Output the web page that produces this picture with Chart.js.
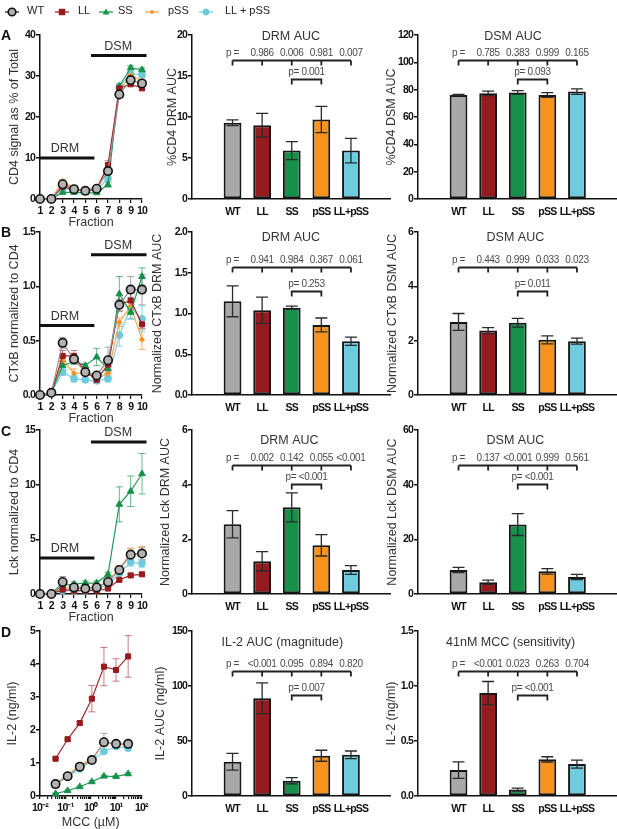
<!DOCTYPE html>
<html>
<head>
<meta charset="utf-8">
<title>CD4, CTxB, Lck and IL-2</title>
<script src="https://cdn.jsdelivr.net/npm/chart.js@4.4.1/dist/chart.umd.min.js"></script>
<style>
  body { margin: 0; background: #fff; }
  #fig { position: relative; width: 617px; height: 829px; overflow: hidden; font-family: "Liberation Sans", Arial, sans-serif; }
  #fig canvas { position: absolute; }
  .letter { position: absolute; left: 1px; font-weight: bold; font-size: 14px; line-height: 14px; color: #111; z-index: 3; }
  .leg { position: absolute; font-size: 11px; line-height: 12px; color: #222; z-index: 3; white-space: nowrap; }
  .legm { position: absolute; z-index: 3; }
</style>
</head>
<body>
<div id="fig">
  <div class="letter" style="top:28px">A</div>
  <div class="letter" style="top:225px">B</div>
  <div class="letter" style="top:424px">C</div>
  <div class="letter" style="top:625px">D</div>
</div>
<script>
'use strict';

// ---- data ----
let groups = ['WT', 'LL', 'SS', 'pSS', 'LL+pSS'];
let legendNames = ['WT', 'LL', 'SS', 'pSS', 'LL + pSS'];
let fractions = [1, 2, 3, 4, 5, 6, 7, 8, 9, 10];
let mccConc = [0.041, 0.123, 0.37, 1.11, 3.33, 10, 30];

// A: CD4 signal as % of total
let cd4WT     = [0, 0, 3.6, 2.4, 2.0, 2.5, 6.8, 25.5, 29.0, 28.2];
let cd4LL     = [0, 0, 3.0, 2.3, 2.0, 2.3, 8.3, 27.0, 28.0, 27.0];
let cd4SS     = [0, 0, 1.6, 1.6, 1.5, 1.5, 3.5, 27.5, 32.0, 31.5];
let cd4pSS    = [0, 0, 4.3, 2.6, 2.2, 2.8, 7.8, 26.5, 30.2, 28.8];
let cd4LLpSS  = [0, 0, 2.5, 2.2, 2.0, 2.2, 5.0, 27.5, 30.5, 30.3];
let cd4WTErr    = [0, 0, 0.3, 0.2, 0.2, 0.2, 0.6, 0.5, 0.6, 0.5];
let cd4LLErr    = [0, 0, 0.3, 0.2, 0.2, 0.2, 1.0, 0.8, 0.6, 0.5];
let cd4SSErr    = [0, 0, 0.2, 0.2, 0.2, 0.2, 0.6, 0.6, 0.5, 0.5];
let cd4pSSErr   = [0, 0, 0.5, 0.3, 0.2, 0.3, 0.8, 0.6, 0.6, 0.9];
let cd4LLpSSErr = [0, 0, 0.3, 0.2, 0.2, 0.2, 0.6, 0.6, 0.6, 0.6];

// B: CTxB normalized to CD4
let cxWT     = [0, 0.02, 0.48, 0.33, 0.21, 0.18, 0.32, 0.83, 0.97, 0.97];
let cxLL     = [0, 0.02, 0.36, 0.36, 0.22, 0.14, 0.28, 0.83, 0.87, 0.65];
let cxSS     = [0, 0.02, 0.27, 0.31, 0.27, 0.35, 0.24, 0.93, 0.76, 1.09];
let cxpSS    = [0, 0.02, 0.32, 0.20, 0.20, 0.15, 0.20, 0.67, 0.82, 0.51];
let cxLLpSS  = [0, 0.02, 0.21, 0.15, 0.14, 0.13, 0.15, 0.55, 0.80, 0.70];
let cxWTErr    = [0, 0, 0.05, 0.03, 0.02, 0.02, 0.12, 0.02, 0.12, 0.14];
let cxLLErr    = [0, 0, 0.05, 0.05, 0.02, 0.03, 0.05, 0.05, 0.08, 0.04];
let cxSSErr    = [0, 0, 0.04, 0.03, 0.02, 0.08, 0.04, 0.16, 0.06, 0.08];
let cxpSSErr   = [0, 0, 0.03, 0.04, 0.02, 0.02, 0.03, 0.04, 0.06, 0.09];
let cxLLpSSErr = [0, 0, 0.03, 0.03, 0.02, 0.02, 0.03, 0.10, 0.10, 0.12];

// C: Lck normalized to CD4
let lckWT     = [0, 0, 1.1, 0.6, 0.5, 0.6, 1.1, 2.2, 3.6, 3.7];
let lckLL     = [0, 0, 0.4, 0.3, 0.3, 0.3, 0.5, 1.3, 1.7, 1.8];
let lckSS     = [0, 0, 0.8, 0.9, 1.0, 1.0, 1.8, 8.2, 9.4, 11.0];
let lckpSS    = [0, 0, 0.6, 0.5, 0.5, 0.6, 1.2, 2.3, 3.7, 3.7];
let lckLLpSS  = [0, 0, 0.3, 0.3, 0.3, 0.4, 0.9, 1.9, 2.9, 2.8];
let lckWTErr    = [0, 0, 0.5, 0.2, 0.1, 0.1, 0.2, 0.3, 0.5, 0.6];
let lckLLErr    = [0, 0, 0.1, 0.1, 0.1, 0.1, 0.1, 0.1, 0.15, 0.15];
let lckSSErr    = [0, 0, 0.2, 0.2, 0.2, 0.2, 0.2, 1.6, 1.4, 1.85];
let lckpSSErr   = [0, 0, 0.2, 0.1, 0.1, 0.1, 0.2, 0.3, 0.5, 0.6];
let lckLLpSSErr = [0, 0, 0.1, 0.1, 0.1, 0.1, 0.1, 0.2, 0.35, 0.35];

// D: IL-2 vs MCC dose
let il2WT     = [0.36, 0.60, 0.89, 1.09, 1.63, 1.58, 1.58];
let il2LL     = [1.13, 1.72, 2.21, 2.95, 3.92, 3.82, 4.23];
let il2SS     = [0.07, 0.16, 0.28, 0.43, 0.60, 0.59, 0.67];
let il2pSS    = [0.38, 0.62, 0.93, 1.12, 1.60, 1.58, 1.53];
let il2LLpSS  = [0.36, 0.58, 0.82, 1.07, 1.35, 1.50, 1.45];
let il2WTErr    = [0.03, 0.03, 0.05, 0.05, 0.27, 0.05, 0.06];
let il2LLErr    = [0.03, 0.04, 0.05, 0.40, 0.58, 0.34, 0.63];
let il2SSErr    = [0.02, 0.02, 0.02, 0.03, 0.03, 0.03, 0.04];
let il2pSSErr   = [0.03, 0.03, 0.05, 0.05, 0.10, 0.06, 0.10];
let il2LLpSSErr = [0.03, 0.03, 0.04, 0.05, 0.07, 0.06, 0.07];

// DRM / DSM marker levels (A, B, C)
let drmLevel = [10, 0.64, 3.3];
let dsmLevel = [35, 1.29, 13.9];

// AUC bars (mean, error)
let cd4DrmAuc = [9.3, 9.0, 5.9, 9.7, 5.9];
let cd4DrmErr = [0.35, 1.45, 1.1, 1.6, 1.5];
let cd4DsmAuc = [76.1, 77.3, 77.9, 76.1, 78.6];
let cd4DsmErr = [0.5, 1.6, 1.4, 1.8, 2.0];
let cxDrmAuc = [1.15, 1.04, 1.07, 0.86, 0.66];
let cxDrmErr = [0.19, 0.16, 0.02, 0.085, 0.05];
let cxDsmAuc = [2.69, 2.37, 2.66, 2.03, 1.98];
let cxDsmErr = [0.31, 0.11, 0.16, 0.15, 0.11];
let lckDrmAuc = [2.55, 1.2, 3.17, 1.78, 0.88];
let lckDrmErr = [0.5, 0.35, 0.53, 0.39, 0.16];
let lckDsmAuc = [8.8, 4.3, 25.4, 8.3, 6.2];
let lckDsmErr = [0.95, 0.8, 4.0, 1.0, 0.95];
let il2Auc = [31.2, 88.8, 13.9, 36.6, 37.4];
let il2AucErr = [7.6, 14, 2.8, 5.0, 3.5];
let il2At41 = [0.236, 0.936, 0.058, 0.333, 0.29];
let il2At41Err = [0.075, 0.105, 0.013, 0.024, 0.037];

// p values (vs WT, then SS vs pSS)
let cd4DrmP = ['0.986', '0.006', '0.981', '0.007'];   let cd4DrmP2 = '0.001';
let cd4DsmP = ['0.785', '0.383', '0.999', '0.165'];   let cd4DsmP2 = '0.093';
let cxDrmP = ['0.941', '0.984', '0.367', '0.061'];    let cxDrmP2 = '0.253';
let cxDsmP = ['0.443', '0.999', '0.033', '0.023'];    let cxDsmP2 = '0.011';
let lckDrmP = ['0.002', '0.142', '0.055', '<0.001'];  let lckDrmP2 = '<0.001';
let lckDsmP = ['0.137', '<0.001', '0.999', '0.561'];  let lckDsmP2 = '<0.001';
let il2AucP = ['<0.001', '0.095', '0.894', '0.820'];  let il2AucP2 = '0.007';
let il2At41P = ['<0.001', '0.023', '0.263', '0.704']; let il2At41P2 = '<0.001';

// ---- look ----
let groupColors = ['#a8a8a8', '#951b1e', '#15914a', '#f7931e', '#6ccbdc'];
let seriesStyle = [
  { line: '#9a8c94', err: 'rgba(150,140,148,0.8)', fill: '#b3b3b3', border: '#111', style: 'circle', r: 4.2, bw: 1.6 },
  { line: '#a0262a', err: 'rgba(160,38,42,0.6)', fill: '#951b1e', border: '#951b1e', style: 'rect', r: 3.6, bw: 1 },
  { line: '#1f9a55', err: 'rgba(31,154,85,0.7)', fill: '#15914a', border: '#15914a', style: 'triangle', r: 3.8, bw: 1 },
  { line: '#f7a24a', err: 'rgba(247,147,30,0.7)', fill: '#f7931e', border: '#f7931e', style: 'rectRot', r: 2.6, bw: 1 },
  { line: '#7fd0e0', err: 'rgba(108,203,220,0.8)', fill: '#6ccbdc', border: '#6ccbdc', style: 'circle', r: 3.4, bw: 1 }
];
let FAM = '"Liberation Sans", Arial, sans-serif';
let tickFont = { family: FAM, size: 10.5, weight: 'bold' };
let tickSpacing = '-0.8px';   // tick labels in the figure are condensed

// layout
let rowBox = [{ top: 35, bottom: 199 }, { top: 232, bottom: 395 }, { top: 430, bottom: 594 }, { top: 631, bottom: 796 }];
let colBox = [{ left: 0, axis: 40, end: 142, right: 152 }, { left: 150, axis: 192, end: 390, right: 398 }, { left: 383, axis: 418, end: 616, right: 617 }];
let yTitleX = [[15, 173, 392], [15, 158, 393], [15, 166, 393], [13, 161, 392]];
let bracketAt = [[0.85, 0.73], [0.785, 0.64], [0.785, 0.67], [0.76, 0.61]];
let titleAt = [0.988, 0.963, 0.933, 0.933];
let titleCenter = [[1.97, 1.84], [1.97, 1.92], [1.92, 1.92], [1.68, 1.76]];
let drmSpan = [1, 5.8], dsmSpan = [5.5, 10.4], drmLabelX = 3.2, dsmLabelX = 7.9;
let legendMarkX = [12, 62, 106, 152, 206];
let legendTextX = [27, 78, 118, 168, 225];

Chart.defaults.font.family = FAM;
Chart.defaults.color = '#111';

let fig = document.getElementById('fig');

function placeCanvas(r, c, xHeight) {
  let rb = rowBox[r], cb = colBox[c];
  let top = rb.top - 24;
  let cv = document.createElement('canvas');
  cv.width = cb.right - cb.left;
  cv.height = rb.bottom + xHeight - top;
  cv.style.left = cb.left + 'px';
  cv.style.top = top + 'px';
  fig.appendChild(cv);
  return { cv: cv, padTop: rb.top - top, padRight: cb.right - cb.end, yWidth: cb.axis - cb.left, titlePad: yTitleX[r][c] - cb.left - 6.25, xHeight: xHeight };
}

// draw tick labels a little condensed, titles untouched
function condenseTicks(chart) {
  Object.values(chart.scales).forEach(s => {
    let orig = s.drawLabels.bind(s);
    s.drawLabels = function (area) {
      let prev = this.ctx.letterSpacing;
      this.ctx.letterSpacing = tickSpacing;
      orig(area);
      this.ctx.letterSpacing = prev || '0px';
    };
  });
  chart.draw();
}

function yScale(p, max, step, dec, title) {
  return {
    min: 0, max: max,
    afterFit: s => { s.width = p.yWidth; },
    border: { color: '#111', width: 1.5 },
    grid: { drawOnChartArea: false, tickLength: 4, color: '#111', lineWidth: 1.5 },
    ticks: { stepSize: step, padding: 1, color: '#111', font: tickFont, callback: v => v.toFixed(dec) },
    title: { display: true, text: title, color: '#333', font: { family: FAM, size: 12.5, lineHeight: 1 }, padding: { top: p.titlePad, bottom: 0 } }
  };
}

let barExtras = {
  id: 'barExtras',
  afterDatasetsDraw(chart, args, o) {
    let ctx = chart.ctx, xs = chart.scales.x, ys = chart.scales.y;
    let ds = chart.data.datasets[0];
    let meta = chart.getDatasetMeta(0);
    ctx.save();
    ctx.strokeStyle = '#2a2a2a';
    ctx.lineWidth = 1.3;
    meta.data.forEach((bar, i) => {
      let v = ds.data[i].y, e = ds.errs[i];
      let t = ys.getPixelForValue(v + e), b = ys.getPixelForValue(v - e);
      ctx.beginPath();
      ctx.moveTo(bar.x, t); ctx.lineTo(bar.x, b);
      ctx.moveTo(bar.x - 6, t); ctx.lineTo(bar.x + 6, t);
      ctx.moveTo(bar.x - 6, b); ctx.lineTo(bar.x + 6, b);
      ctx.stroke();
    });
    let max = ys.max;
    let xc = i => xs.getPixelForValue(i);
    ctx.fillStyle = '#333';
    ctx.font = '12.5px ' + FAM;
    ctx.textAlign = 'center';
    ctx.textBaseline = 'middle';
    ctx.fillText(o.title, xc(o.titleX), ys.getPixelForValue(max * o.titleAt));
    let b1 = Math.round(ys.getPixelForValue(max * o.b1)) + 0.5;
    let b2 = Math.round(ys.getPixelForValue(max * o.b2)) + 0.5;
    ctx.strokeStyle = '#222';
    ctx.lineWidth = 1.8;
    ctx.beginPath();
    ctx.moveTo(xc(0), b1); ctx.lineTo(xc(4), b1);
    for (let i = 0; i < 5; i++) { ctx.moveTo(xc(i), b1); ctx.lineTo(xc(i), b1 + 5); }
    ctx.moveTo(xc(2), b2 + 5); ctx.lineTo(xc(2), b2); ctx.lineTo(xc(3), b2); ctx.lineTo(xc(3), b2 + 5);
    ctx.stroke();
    ctx.fillStyle = '#4a4a4a';
    ctx.font = '10px ' + FAM;
    ctx.letterSpacing = '-0.35px';
    ctx.textBaseline = 'bottom';
    ['p ='].concat(o.p).forEach((t, i) => ctx.fillText(t, xc(i), b1 - 2));
    ctx.fillText('p= ' + o.p2, (xc(2) + xc(3)) / 2, b2 - 2);
    ctx.restore();
  }
};

let lineExtras = {
  id: 'lineExtras',
  beforeDatasetsDraw(chart) {
    let ctx = chart.ctx, ys = chart.scales.y;
    ctx.save();
    chart.data.datasets.forEach((ds, k) => {
      let meta = chart.getDatasetMeta(k);
      ctx.strokeStyle = ds.errColor;
      ctx.lineWidth = 1;
      meta.data.forEach((pt, i) => {
        let e = ds.errs[i];
        if (!e) return;
        let v = ds.data[i].y;
        let t = ys.getPixelForValue(v + e), b = ys.getPixelForValue(v - e);
        ctx.beginPath();
        ctx.moveTo(pt.x, t); ctx.lineTo(pt.x, b);
        ctx.moveTo(pt.x - 3.5, t); ctx.lineTo(pt.x + 3.5, t);
        ctx.moveTo(pt.x - 3.5, b); ctx.lineTo(pt.x + 3.5, b);
        ctx.stroke();
      });
    });
    ctx.restore();
  },
  afterDatasetsDraw(chart, args, o) {
    if (o.drm == null) return;
    let ctx = chart.ctx, xs = chart.scales.x, ys = chart.scales.y;
    ctx.save();
    ctx.strokeStyle = '#111';
    ctx.lineWidth = 3;
    ctx.fillStyle = '#333';
    ctx.font = '12.5px ' + FAM;
    ctx.textAlign = 'center';
    ctx.textBaseline = 'bottom';
    [[o.drm, drmSpan, drmLabelX, 'DRM'], [o.dsm, dsmSpan, dsmLabelX, 'DSM']].forEach(m => {
      let y = ys.getPixelForValue(m[0]);
      ctx.beginPath();
      ctx.moveTo(xs.getPixelForValue(m[1][0]), y);
      ctx.lineTo(xs.getPixelForValue(m[1][1]), y);
      ctx.stroke();
      ctx.fillText(m[3], xs.getPixelForValue(m[2]), y - 3);
    });
    ctx.restore();
  }
};

let supMap = { '-': '\u207B', '0': '\u2070', '1': '\u00B9', '2': '\u00B2' };
function powLabel(v) {
  let lg = Math.log10(v);
  if (Math.abs(lg - Math.round(lg)) > 1e-9) return '';
  return '10' + String(Math.round(lg)).split('').map(ch => supMap[ch]).join('');
}

function lineChart(lp) {
  let p = placeCanvas(lp.r, 0, lp.log ? 33 : 30);
  let datasets = lp.series.map((vals, k) => {
    let st = seriesStyle[k];
    return {
      data: vals.map((v, i) => ({ x: lp.xs[i], y: v })),
      errs: lp.errs[k], errColor: st.err,
      borderColor: st.line, borderWidth: 1.2, tension: 0,
      pointStyle: st.style, pointRadius: st.r, pointBackgroundColor: st.fill,
      pointBorderColor: st.border, pointBorderWidth: st.bw, clip: false
    };
  });
  let xTitle = { display: true, text: lp.xTitle, color: '#333', font: { family: FAM, size: 12.5, lineHeight: 1 }, padding: { top: 0, bottom: 0.5 } };
  let xScale;
  if (lp.log) {
    xScale = {
      type: 'logarithmic', min: 0.01, max: 100,
      afterBuildTicks: ax => {
        let t = [];
        for (let k = -2; k < 2; k++) for (let m = 1; m < 10; m++) t.push({ value: m * Math.pow(10, k) });
        t.push({ value: 100 });
        ax.ticks = t;
      },
      afterFit: s => { s.height = p.xHeight; },
      border: { color: '#111', width: 1.5 },
      grid: { drawOnChartArea: false, tickLength: 3, color: '#111', lineWidth: 1.2 },
      ticks: { callback: v => powLabel(v), font: tickFont, color: '#111', padding: 3, autoSkip: false, maxRotation: 0 },
      title: xTitle
    };
  } else {
    xScale = {
      type: 'linear', min: 1, max: 10,
      afterFit: s => { s.height = p.xHeight; },
      border: { color: '#111', width: 1.5 },
      grid: { drawOnChartArea: false, tickLength: 4, color: '#111', lineWidth: 1.2 },
      ticks: { stepSize: 1, font: tickFont, color: '#111', padding: 2, autoSkip: false, maxRotation: 0 },
      title: xTitle
    };
  }
  let chart = new Chart(p.cv, {
    type: 'line',
    data: { datasets: datasets },
    options: {
      responsive: false, animation: false, events: [],
      layout: { padding: { top: p.padTop, right: p.padRight, left: 0, bottom: 0 } },
      plugins: { legend: { display: false }, tooltip: { enabled: false }, lineExtras: { drm: lp.drm, dsm: lp.dsm } },
      scales: { x: xScale, y: yScale(p, lp.max, lp.step, lp.dec, lp.yTitle) }
    },
    plugins: [lineExtras]
  });
  condenseTicks(chart);
}

function barChart(bp) {
  let p = placeCanvas(bp.r, bp.c, 24);
  let chart = new Chart(p.cv, {
    type: 'bar',
    data: { datasets: [{
      data: bp.vals.map((v, i) => ({ x: i, y: v })),
      errs: bp.errs,
      backgroundColor: groupColors, borderColor: '#161616', borderWidth: 2, borderSkipped: false,
      barPercentage: 0.6, categoryPercentage: 1
    }] },
    options: {
      responsive: false, animation: false, events: [],
      layout: { padding: { top: p.padTop, right: p.padRight, left: 0, bottom: 0 } },
      plugins: {
        legend: { display: false }, tooltip: { enabled: false },
        barExtras: { title: bp.title, titleAt: titleAt[bp.r], titleX: titleCenter[bp.r][bp.c - 1],
                     b1: bracketAt[bp.r][0], b2: bracketAt[bp.r][1], p: bp.p, p2: bp.p2 }
      },
      scales: {
        x: {
          type: 'linear', min: -0.7, max: 4.65,
          afterBuildTicks: ax => { ax.ticks = groups.map((g, i) => ({ value: i })); },
          afterFit: s => { s.height = p.xHeight; },
          grid: { display: false, drawTicks: false },
          border: { color: '#111', width: 1.5 },
          ticks: { callback: v => groups[v], font: tickFont, color: '#111', padding: 7, autoSkip: false, maxRotation: 0 }
        },
        y: yScale(p, bp.max, bp.step, bp.dec, bp.yTitle)
      }
    },
    plugins: [barExtras]
  });
  condenseTicks(chart);
}

lineChart({ r: 0, xs: fractions, series: [cd4WT, cd4LL, cd4SS, cd4pSS, cd4LLpSS],
  errs: [cd4WTErr, cd4LLErr, cd4SSErr, cd4pSSErr, cd4LLpSSErr],
  max: 40, step: 10, dec: 0, yTitle: 'CD4 signal as % of Total', xTitle: 'Fraction', drm: drmLevel[0], dsm: dsmLevel[0] });
lineChart({ r: 1, xs: fractions, series: [cxWT, cxLL, cxSS, cxpSS, cxLLpSS],
  errs: [cxWTErr, cxLLErr, cxSSErr, cxpSSErr, cxLLpSSErr],
  max: 1.5, step: 0.5, dec: 1, yTitle: 'CTxB normalized to CD4', xTitle: 'Fraction', drm: drmLevel[1], dsm: dsmLevel[1] });
lineChart({ r: 2, xs: fractions, series: [lckWT, lckLL, lckSS, lckpSS, lckLLpSS],
  errs: [lckWTErr, lckLLErr, lckSSErr, lckpSSErr, lckLLpSSErr],
  max: 15, step: 5, dec: 0, yTitle: 'Lck normalized to CD4', xTitle: 'Fraction', drm: drmLevel[2], dsm: dsmLevel[2] });
lineChart({ r: 3, xs: mccConc, log: true, series: [il2WT, il2LL, il2SS, il2pSS, il2LLpSS],
  errs: [il2WTErr, il2LLErr, il2SSErr, il2pSSErr, il2LLpSSErr],
  max: 5, step: 1, dec: 0, yTitle: 'IL-2 (ng/ml)', xTitle: 'MCC (\u00B5M)', drm: null, dsm: null });

barChart({ r: 0, c: 1, vals: cd4DrmAuc, errs: cd4DrmErr, p: cd4DrmP, p2: cd4DrmP2, title: 'DRM AUC', yTitle: '%CD4 DRM AUC', max: 20, step: 5, dec: 0 });
barChart({ r: 0, c: 2, vals: cd4DsmAuc, errs: cd4DsmErr, p: cd4DsmP, p2: cd4DsmP2, title: 'DSM AUC', yTitle: '%CD4 DSM AUC', max: 120, step: 20, dec: 0 });
barChart({ r: 1, c: 1, vals: cxDrmAuc, errs: cxDrmErr, p: cxDrmP, p2: cxDrmP2, title: 'DRM AUC', yTitle: 'Normalized CTxB DRM AUC', max: 2, step: 0.5, dec: 1 });
barChart({ r: 1, c: 2, vals: cxDsmAuc, errs: cxDsmErr, p: cxDsmP, p2: cxDsmP2, title: 'DSM AUC', yTitle: 'Normalized CTxB DSM AUC', max: 6, step: 2, dec: 0 });
barChart({ r: 2, c: 1, vals: lckDrmAuc, errs: lckDrmErr, p: lckDrmP, p2: lckDrmP2, title: 'DRM AUC', yTitle: 'Normalized Lck DRM AUC', max: 6, step: 2, dec: 0 });
barChart({ r: 2, c: 2, vals: lckDsmAuc, errs: lckDsmErr, p: lckDsmP, p2: lckDsmP2, title: 'DSM AUC', yTitle: 'Normalized Lck DSM AUC', max: 60, step: 20, dec: 0 });
barChart({ r: 3, c: 1, vals: il2Auc, errs: il2AucErr, p: il2AucP, p2: il2AucP2, title: 'IL-2 AUC (magnitude)', yTitle: 'IL-2 AUC (ng/ml)', max: 150, step: 50, dec: 0 });
barChart({ r: 3, c: 2, vals: il2At41, errs: il2At41Err, p: il2At41P, p2: il2At41P2, title: '41nM MCC (sensitivity)', yTitle: 'IL-2 (ng/ml)', max: 1.5, step: 0.5, dec: 1 });

// legend
function markerSvg(st) {
  let c = 8, cy = 6, r = st.r * 0.9, shape;
  if (st.style === 'circle') {
    shape = '<circle cx="' + c + '" cy="' + cy + '" r="' + r + '" fill="' + st.fill + '" stroke="' + st.border + '" stroke-width="' + st.bw + '"/>';
  } else if (st.style === 'rect') {
    shape = '<rect x="' + (c - r) + '" y="' + (cy - r) + '" width="' + 2 * r + '" height="' + 2 * r + '" fill="' + st.fill + '"/>';
  } else if (st.style === 'triangle') {
    shape = '<polygon points="' + c + ',' + (cy - r) + ' ' + (c + r) + ',' + (cy + r * 0.75) + ' ' + (c - r) + ',' + (cy + r * 0.75) + '" fill="' + st.fill + '"/>';
  } else {
    shape = '<polygon points="' + c + ',' + (cy - r) + ' ' + (c + r) + ',' + cy + ' ' + c + ',' + (cy + r) + ' ' + (c - r) + ',' + cy + '" fill="' + st.fill + '"/>';
  }
  return '<svg width="16" height="12"><line x1="1" y1="6" x2="15" y2="6" stroke="' + (st.style === 'circle' && st.border === '#111' ? '#333' : st.line) + '" stroke-width="1.3"/>' + shape + '</svg>';
}
legendNames.forEach((name, k) => {
  let m = document.createElement('div');
  m.className = 'legm';
  m.style.left = (legendMarkX[k] - 8) + 'px';
  m.style.top = '4px';
  m.innerHTML = markerSvg(seriesStyle[k]);
  fig.appendChild(m);
  let t = document.createElement('div');
  t.className = 'leg';
  t.style.left = legendTextX[k] + 'px';
  t.style.top = '4px';
  t.textContent = name;
  fig.appendChild(t);
});
</script>
</body>
</html>
